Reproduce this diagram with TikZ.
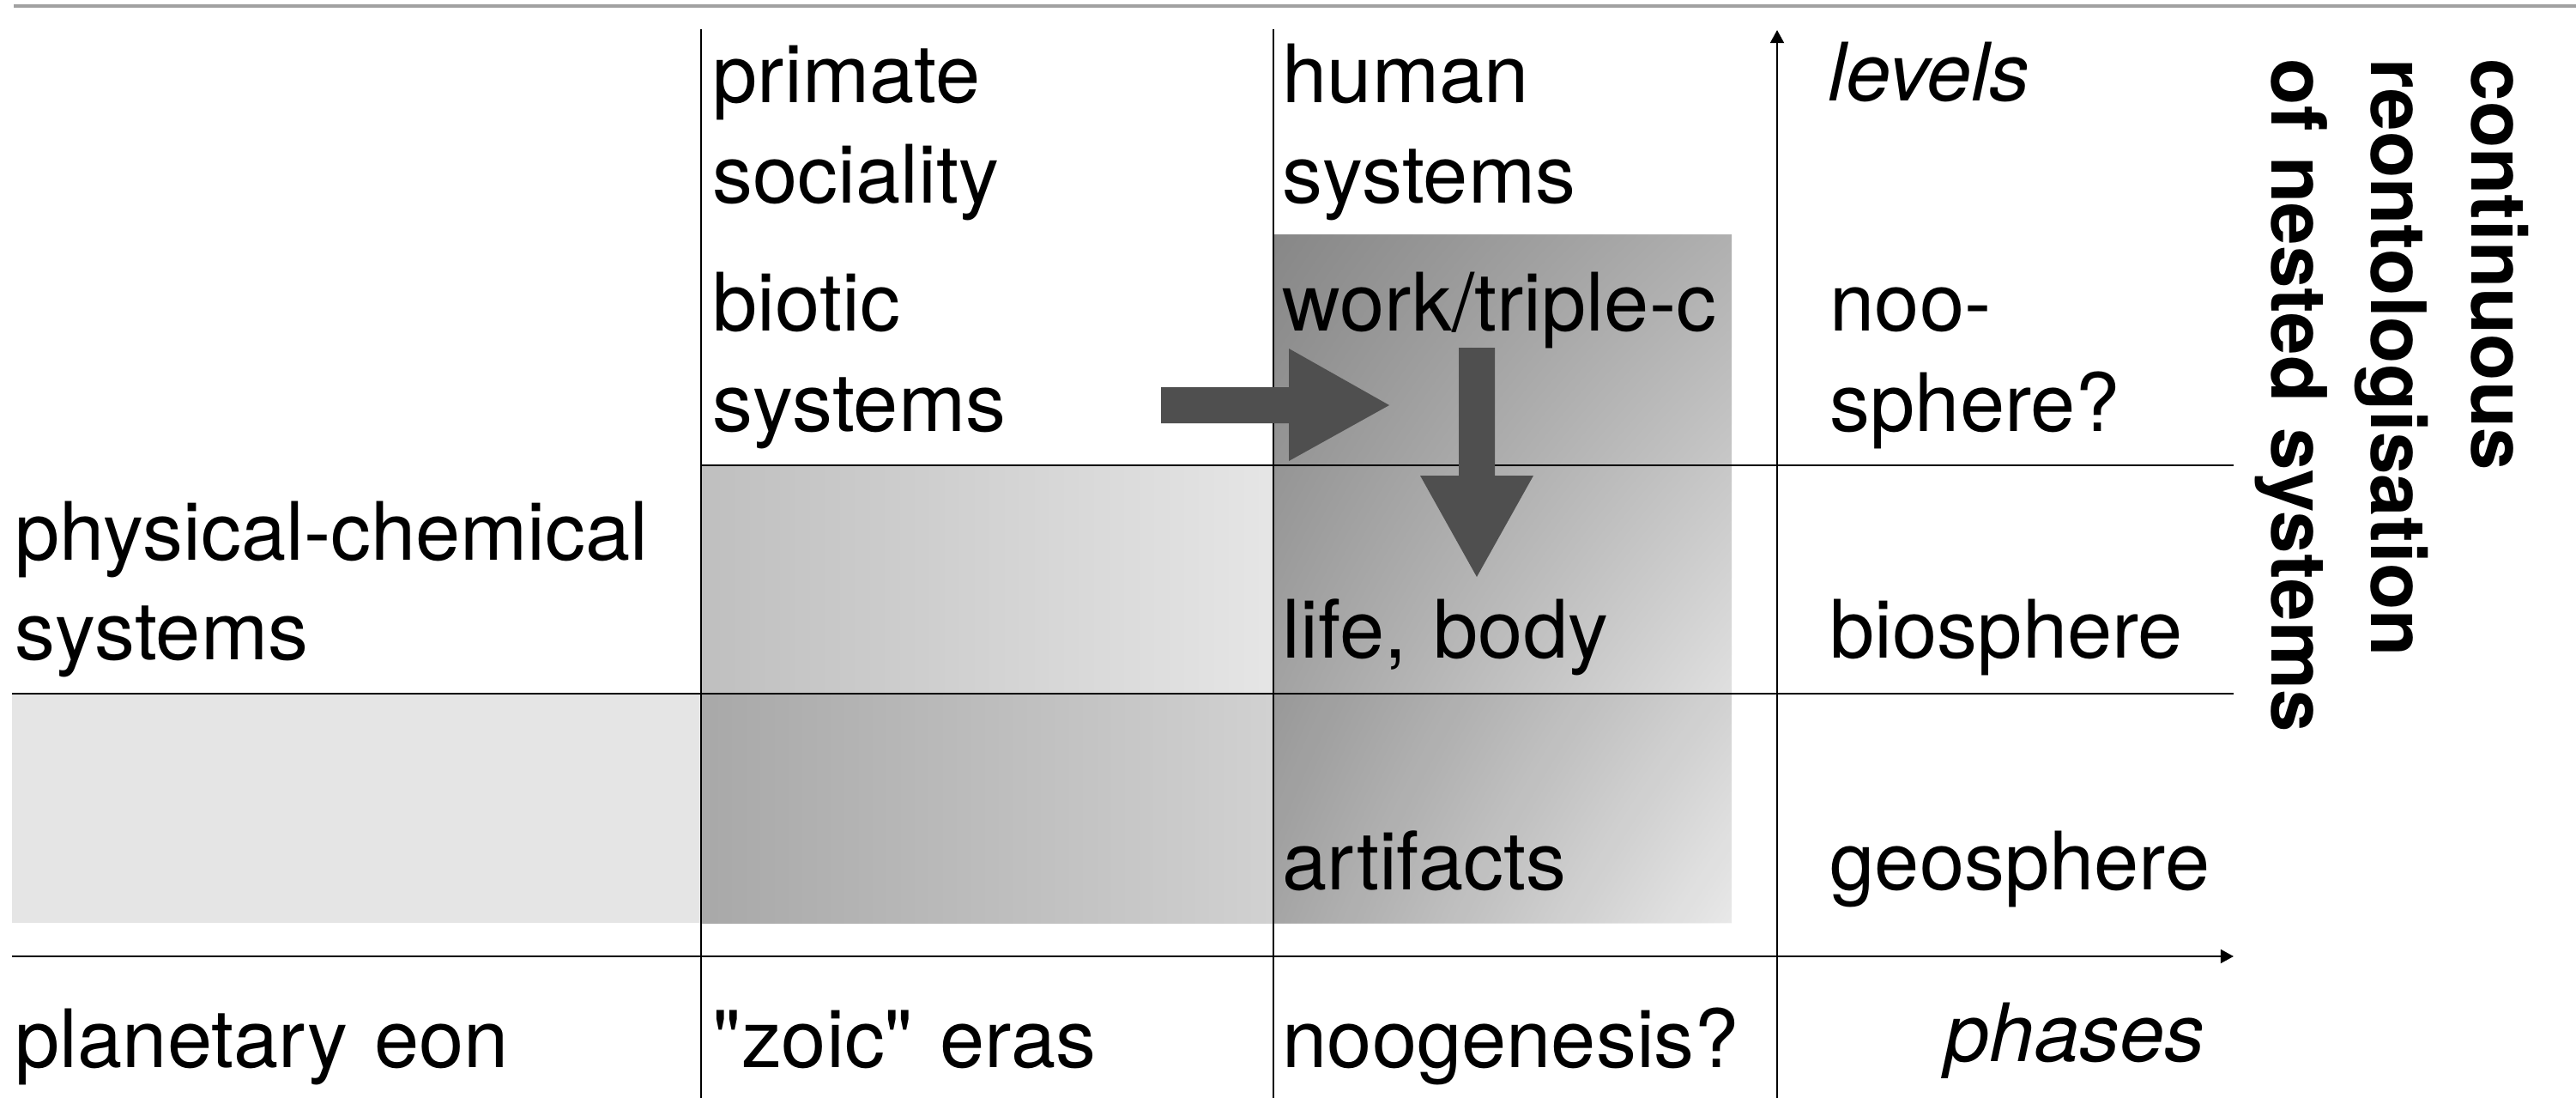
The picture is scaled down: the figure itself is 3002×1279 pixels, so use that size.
\documentclass[tikz,border=0pt]{standalone}
\usepackage{fontspec}
\setmainfont{TeX Gyre Heros}
\usepackage{tikz}
\usetikzlibrary{arrows.meta, shadings}
\usepackage{xcolor}

\tikzset{
  lbl/.style={inner sep=0pt, anchor=base west, text width=8cm, align=left, font=\fontsize{26.7}{33}\selectfont},
  rule/.style={line width=0.7pt},
  axis/.style={line width=0.7pt, -{Triangle[length=4.3pt,width=4.5pt]}},
  blockarrow/.style={fill=black!69}
}

\begin{document}
\begin{tikzpicture}[x=0.01cm, y=-0.01cm]
  \useasboundingbox (0,0) rectangle (3002,1279);

  % shaded bands
  \fill[black!10] (14,808) rectangle (817,1075);
  \shade[left color=black!25, right color=black!10] (817,542) rectangle (1484,808);
  \shade[left color=black!34, right color=black!18] (817,808) rectangle (1484,1075);
  \shade[upper left=black!47, upper right=black!31, lower left=black!31, lower right=black!3] (1484,274) rectangle (2018,1075);
  \fill[black, opacity=0.06] (1484,808) rectangle (2018,1075);

  % grid and axes
  \draw[line width=1.1pt, black!37] (16,7) -- (3002,7);
  \draw[rule] (817,34) -- (817,1279);
  \draw[rule] (1484,34) -- (1484,1279);
  \draw[rule] (817,542) -- (2603,542);
  \draw[rule] (14,808) -- (2603,808);
  \draw[axis] (14,1114) -- (2603,1114);
  \draw[axis] (2071,1279) -- (2071,35);

  % big arrows
  \fill[blockarrow] (1353,451) -- (1502,451) -- (1502,406) -- (1619,472) -- (1502,537) -- (1502,493) -- (1353,493) -- cycle;
  \fill[blockarrow] (1700,405) -- (1742,405) -- (1742,554) -- (1787,554) -- (1721,672) -- (1655,554) -- (1700,554) -- cycle;

  % first column
  \node (physchem) [lbl] at (17,652) {physical-chemical\\systems};
  \node (planet) [lbl] at (17,1243) {planetary eon};

  % second column
  \node (primate) [lbl] at (830,120) {primate\\sociality};
  \node (biotic) [lbl] at (830,386) {biotic\\systems};
  \node (zoic) [lbl] at (830,1243) {\textquotedbl zoic\textquotedbl{} eras};

  % third column
  \node (human) [lbl] at (1494,120) {human\\systems};
  \node (work) [lbl] at (1494,386) {work/triple-c};
  \node (life) [lbl] at (1494,766) {life, body};
  \node (artifacts) [lbl] at (1494,1036) {artifacts};
  \node (noogen) [lbl] at (1494,1243) {noogenesis?};

  % levels column
  \node (levels) [lbl, font=\fontsize{26.7}{33}\itshape\selectfont] at (2130,118) {levels};
  \node (noosph) [lbl] at (2132,386) {noo-\\sphere?};
  \node (biosph) [lbl] at (2132,766) {biosphere};
  \node (geosph) [lbl] at (2132,1036) {geosphere};
  \node (phases) [inner sep=0pt, anchor=base east, font=\fontsize{26.7}{33}\itshape\selectfont] at (2570,1236) {phases};

  % side title
  \node (reonto) [lbl, text width=9cm, rotate=-90, font=\fontsize{25.3}{33}\bfseries\selectfont] at (2880,68) {continuous\\reontologisation\\of nested systems};
\end{tikzpicture}
\end{document}
